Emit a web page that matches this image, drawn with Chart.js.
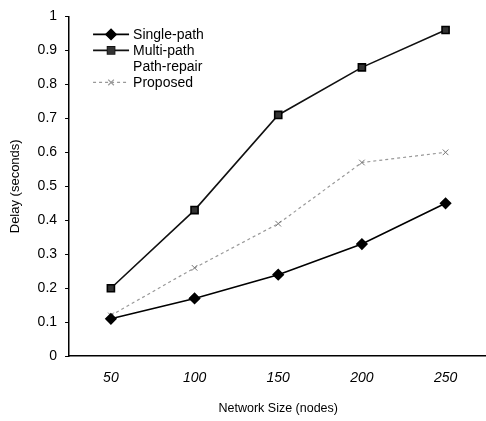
<!DOCTYPE html>
<html>
<head>
<meta charset="utf-8">
<script src="https://cdn.jsdelivr.net/npm/chart.js@4.4.1/dist/chart.umd.min.js"></script>
<style>
  html, body { margin: 0; padding: 0; background: #fff; overflow: hidden; }
  #wrap { width: 494px; height: 421px; }
</style>
</head>
<body>
<div id="wrap"><canvas id="delayChart"></canvas></div>
<script>
// Values
const sizes = ["50", "100", "150", "200", "250"];
const singlePath = [0.11, 0.17, 0.24, 0.33, 0.45];
const multiPath = [0.20, 0.43, 0.71, 0.85, 0.96];
const pathRepair = [null, null, null, null, null]; // not visible in the figure
const proposed = [0.12, 0.26, 0.39, 0.57, 0.60];

const font = "'Liberation Sans', Arial, sans-serif";

// legend drawn inside the plot, line + marker like the original
const insideLegend = {
  id: "insideLegend",
  afterDraw(chart) {
    const ctx = chart.ctx;
    const x0 = chart.chartArea.left + 24;
    let y = chart.chartArea.top + 18;
    chart.data.datasets.forEach(ds => {
      ctx.save();
      ctx.strokeStyle = ds.borderColor;
      ctx.lineWidth = ds.borderWidth;
      ctx.setLineDash(ds.borderDash || []);
      ctx.beginPath();
      ctx.moveTo(x0, y);
      ctx.lineTo(x0 + 36, y);
      ctx.stroke();
      ctx.setLineDash([]);
      if (ds.pointStyle && ds.pointRadius) {
        ctx.fillStyle = ds.pointBackgroundColor;
        Chart.helpers.drawPoint(ctx, {
          pointStyle: ds.pointStyle, radius: ds.pointRadius, borderWidth: 1
        }, x0 + 18, y);
        ctx.fill();
      }
      ctx.fillStyle = "#000";
      ctx.font = "14px " + font;
      ctx.textBaseline = "middle";
      ctx.fillText(ds.label, x0 + 40, y + 1);
      ctx.restore();
      y += 16;
    });
  }
};

new Chart(document.getElementById("delayChart"), {
  type: "line",
  data: {
    labels: sizes,
    datasets: [
      {
        label: "Single-path", data: singlePath,
        borderColor: "#000", borderWidth: 1.6,
        pointStyle: "rectRot", pointRadius: 5,
        pointBackgroundColor: "#000", pointBorderColor: "#000"
      },
      {
        label: "Multi-path", data: multiPath,
        borderColor: "#111", borderWidth: 1.6,
        pointStyle: "rect", pointRadius: 5,
        pointBackgroundColor: "#333", pointBorderColor: "#000"
      },
      {
        label: "Path-repair", data: pathRepair,
        borderColor: "rgba(0,0,0,0)", borderWidth: 1,
        pointRadius: 0
      },
      {
        label: "Proposed", data: proposed,
        borderColor: "#999", borderWidth: 1.2, borderDash: [3, 3],
        pointStyle: "crossRot", pointRadius: 4,
        pointBackgroundColor: "#777", pointBorderColor: "#777", pointBorderWidth: 1
      }
    ]
  },
  options: {
    responsive: true,
    maintainAspectRatio: false,
    animation: false,
    layout: { padding: { top: 10, right: 0, bottom: 5, left: 4 } },
    plugins: {
      legend: { display: false },
      tooltip: { enabled: false }
    },
    scales: {
      x: {
        offset: true,
        grid: { display: false, drawTicks: false },
        border: { display: true, color: "#000", width: 1.5 },
        ticks: {
          color: "#000", padding: 14,
          font: { family: font, size: 14, style: "italic" }
        },
        title: {
          display: true, text: "Network Size (nodes)", color: "#000",
          font: { family: font, size: 12.5 }, padding: { top: 0, bottom: 0 }
        }
      },
      y: {
        min: 0, max: 1,
        grid: { drawOnChartArea: false, tickLength: 4, color: "#000" },
        border: { display: true, color: "#000", width: 1.5 },
        ticks: {
          stepSize: 0.1, color: "#000", padding: 8,
          font: { family: font, size: 14 },
          callback: v => Math.round(v * 10) / 10
        },
        title: {
          display: true, text: "Delay (seconds)", color: "#000",
          font: { family: font, size: 13 }, padding: { bottom: 6 }
        }
      }
    }
  },
  plugins: [insideLegend]
});
</script>
</body>
</html>
